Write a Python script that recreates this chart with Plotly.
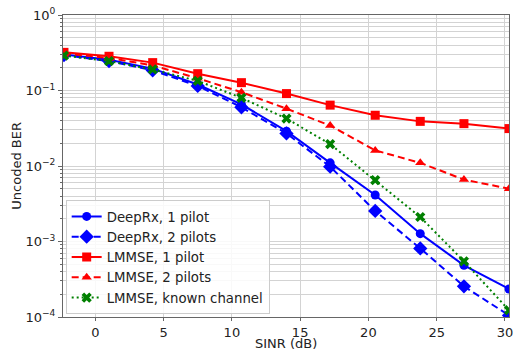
import plotly.graph_objects as go

sinr_db = [-2.3, 1.0, 4.2, 7.5, 10.7, 14.0, 17.2, 20.5, 23.8, 27.0, 30.3]

deeprx_1pilot = [0.30, 0.255, 0.195, 0.120, 0.0656, 0.0289, 0.0110, 0.00413, 0.00127, 0.000484, 0.000235]
deeprx_2pilots = [0.295, 0.245, 0.185, 0.115, 0.0600, 0.0270, 0.0098, 0.00254, 0.00081, 0.000255, 0.000105]
lmmse_1pilot = [0.32, 0.284, 0.234, 0.167, 0.127, 0.091, 0.064, 0.047, 0.039, 0.0364, 0.0313]
lmmse_2pilots = [0.31, 0.27, 0.215, 0.145, 0.095, 0.0575, 0.0343, 0.0161, 0.0110, 0.0066, 0.0050]
lmmse_known = [0.29, 0.245, 0.19, 0.134, 0.080, 0.0425, 0.0195, 0.0065, 0.00211, 0.000547, 0.000123]

series_names = ["DeepRx, 1 pilot", "DeepRx, 2 pilots", "LMMSE, 1 pilot",
                "LMMSE, 2 pilots", "LMMSE, known channel"]

x_title = "SINR (dB)"
y_title = "Uncoded BER"
x_ticks = [0, 5, 10, 15, 20, 25, 30]
y_tick_vals = [1e-4, 1e-3, 1e-2, 1e-1, 1e0]
y_tick_text = ["10<sup>\u22124</sup>", "10<sup>\u22123</sup>", "10<sup>\u22122</sup>",
               "10<sup>\u22121</sup>", "10<sup>0</sup>"]

styles = [
    dict(color="#0000ff", dash="solid", symbol="circle", size=9),
    dict(color="#0000ff", dash="7px,4px", symbol="diamond", size=11),
    dict(color="#ff0000", dash="solid", symbol="square", size=9),
    dict(color="#ff0000", dash="7px,4px", symbol="triangle-up", size=9),
    dict(color="#008000", dash="2px,3px", symbol="x", size=9),
]

data = [deeprx_1pilot, deeprx_2pilots, lmmse_1pilot, lmmse_2pilots, lmmse_known]

fig = go.Figure()
for name, ys, st in zip(series_names, data, styles):
    fig.add_trace(go.Scatter(
        x=sinr_db, y=ys, name=name, mode="lines+markers",
        line=dict(color=st["color"], width=2, dash=st["dash"]),
        marker=dict(color=st["color"], symbol=st["symbol"], size=st["size"],
                    line=dict(width=0)),
    ))

font = dict(family="DejaVu Sans", size=13, color="#222")
grid_c = "#d3d3d3"

fig.update_layout(
    width=513, height=351,
    margin=dict(l=63, r=4, t=15, b=34),
    paper_bgcolor="white", plot_bgcolor="white",
    font=font,
    showlegend=True,
    legend=dict(
        x=0.006, y=0.009, xanchor="left", yanchor="bottom",
        bgcolor="rgba(255,255,255,0.85)", bordercolor="#cccccc", borderwidth=1,
        font=dict(family="DejaVu Sans", size=13.3, color="#222"),
        tracegroupgap=0, itemwidth=30,
    ),
    annotations=[
        dict(text=x_title, xref="paper", yref="paper", x=0.5, y=-0.088,
             xanchor="center", yanchor="middle", showarrow=False, font=font),
        dict(text=y_title, xref="paper", yref="paper", x=-0.106, y=0.5,
             xanchor="center", yanchor="middle", showarrow=False, font=font,
             textangle=-90),
    ],
)

fig.update_xaxes(
    range=[-2.37, 30.3],
    tickvals=x_ticks,
    showgrid=True, gridcolor=grid_c, gridwidth=1,
    showline=True, mirror=True, linecolor="#666", linewidth=1,
    ticks="outside", ticklen=3, tickcolor="#666",
    zeroline=False, automargin=False, ticklabeloverflow="allow",
    tickfont=font,
)
fig.update_yaxes(
    type="log", range=[-4, 0],
    tickvals=y_tick_vals, ticktext=y_tick_text,
    showgrid=True, gridcolor=grid_c, gridwidth=1,
    minor=dict(dtick="D1", showgrid=True, gridcolor=grid_c, ticks="outside",
               ticklen=2, tickcolor="#666"),
    showline=True, mirror=True, linecolor="#666", linewidth=1,
    ticks="outside", ticklen=4, tickcolor="#666",
    zeroline=False, automargin=False, ticklabeloverflow="allow",
    tickfont=font,
)

fig.write_html("out.html", config={"displayModeBar": False},
               post_script="document.body.style.margin='0';")
